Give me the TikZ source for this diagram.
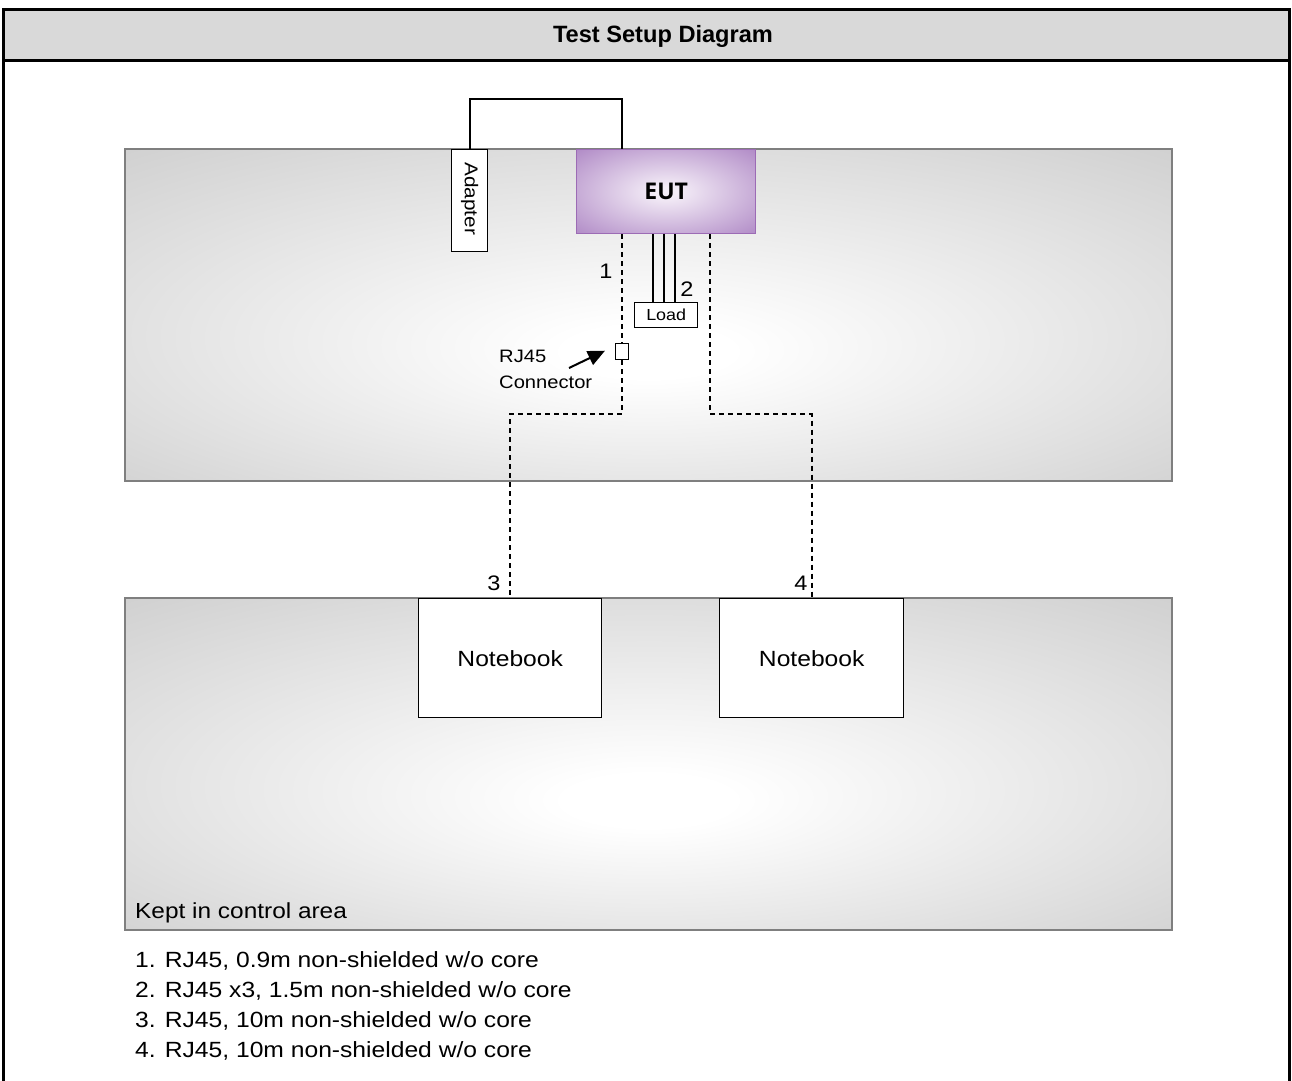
\documentclass[tikz,border=0pt]{standalone}
\usepackage{fontspec}
\setmainfont{Liberation Sans}
\newfontfamily\wf[FakeStretch=1.12]{Liberation Sans}
\newfontfamily\eutfont{Open Sans}
\usetikzlibrary{arrows.meta,calc}
\definecolor{hdrgray}{HTML}{D9D9D9}
\definecolor{panelgray}{HTML}{D0D0D0}
\definecolor{panelline}{HTML}{7F7F7F}
\definecolor{eutout}{HTML}{B08AC6}
\definecolor{eutin}{HTML}{F4EDF7}
\definecolor{eutline}{HTML}{9C6BB5}
\pgfdeclareradialshading{panelshade}{\pgfpoint{0bp}{-6bp}}{color(0bp)=(white); color(4bp)=(white); color(37bp)=(panelgray); color(50bp)=(panelgray)}
\pgfdeclareradialshading{eutshade}{\pgfpoint{0bp}{0bp}}{color(0bp)=(eutin); color(3bp)=(eutin); color(36bp)=(eutout); color(50bp)=(eutout)}
\tikzset{
  panel/.style={draw=panelline, line width=1.6pt, shading=panelshade},
  whitebox/.style={draw=black, fill=white, line width=1.4pt, inner sep=0pt},
  cable/.style={draw=black, line width=1.6pt},
  dcable/.style={draw=black, line width=1.6pt, dash pattern=on 5pt off 4pt},
  lbl/.style={inner sep=0pt, font=\wf\fontsize{21}{24}\selectfont},
  legend/.style={inner sep=0pt, anchor=base west, font=\wf\fontsize{22}{25}\selectfont},
}
\begin{document}
\begin{tikzpicture}[x=1pt,y=-1pt]
\useasboundingbox (0,0) rectangle (1292,1080);
\fill[white] (0,0) rectangle (1292,1080);
% header
\fill[hdrgray] (3,9) rectangle (1289,60);
\draw[line width=3pt] (3,1090) -- (3,9) -- (1289,9) -- (1289,1090);
\draw[line width=3pt] (3,60) -- (1289,60);
\node[inner sep=0pt, font=\bfseries\fontsize{23.6}{26}\selectfont] (title) at (663,36) {Test Setup Diagram};
% panels
\path[panel] (125,149) rectangle (1172,481);
\path[panel] (125,598) rectangle (1172,930);
\node[inner sep=0pt, anchor=base west, font=\wf\fontsize{21.8}{24}\selectfont] (kept) at (135,918) {Kept in control area};
% EUT
\node[draw=eutline, line width=1.4pt, shading=eutshade, minimum width=179pt, minimum height=84pt, anchor=north west, inner sep=0pt, font=\eutfont\bfseries\fontsize{23}{26}\selectfont] (eut) at (576,149) {EUT};
% adapter
\node[whitebox, minimum width=36pt, minimum height=102pt, anchor=north west] (adapter) at (451,149) {};
\node[inner sep=0pt, rotate=-90, font=\wf\fontsize{18.5}{21}\selectfont] (adtext) at ($(adapter.center)+(0,-2)$) {Adapter};
% RJ45 connector box
\node[whitebox, minimum width=13pt, minimum height=16pt, anchor=north west] (conn) at (615,343) {};
% load
\node[whitebox, minimum width=63pt, minimum height=25pt, anchor=north west, font=\wf\fontsize{16}{18}\selectfont] (load) at (634,302) {Load};
% notebooks
\node[whitebox, minimum width=183pt, minimum height=119pt, anchor=north west, font=\wf\fontsize{22}{25}\selectfont] (nb1) at (418,598) {Notebook};
\node[whitebox, minimum width=184pt, minimum height=119pt, anchor=north west, font=\wf\fontsize{22}{25}\selectfont] (nb2) at (719,598) {Notebook};
% helper coordinates
\coordinate (cabletop) at (469,99);
\coordinate (bend) at (0,414);
\coordinate (c4) at (710,0);
% adapter cable
\draw[cable] (adapter.north) |- (cabletop -| conn.north) -- (eut.north -| conn.north);
% cable 1 and 3
\draw[dcable] (eut.south -| conn.north) -- (conn.north);
\draw[dcable] (conn.south) -- (conn.south |- bend) -| (nb1.north);
% cable 4
\draw[dcable] (eut.south -| c4) -- (c4 |- bend) -| (nb2.north);
% load cables
\foreach \dx in {19,30,41}{
  \draw[cable] ($(load.north west)+(\dx,0)$) -- ($(load.north west |- eut.south)+(\dx,0)$);
}
% number labels
\node[lbl] (n1) at (606,271) {1};
\node[lbl] (n2) at (687,289) {2};
\node[lbl] (n3) at (494,583) {3};
\node[lbl] (n4) at (801,583) {4};
% RJ45 label and arrow
\node[inner sep=0pt, anchor=base west, font=\wf\fontsize{18}{20}\selectfont] (rjlbl) at (499,362) {RJ45};
\node[inner sep=0pt, anchor=base west, font=\wf\fontsize{18}{20}\selectfont] (connlbl) at (499,388) {Connector};
\coordinate (arrtail) at (569,368);
\draw[line width=2pt, -{Triangle[length=17pt,width=15pt]}] (arrtail) -- ($(conn.west)+(-10,-1)$);
% legend
\node[legend] (l1) at (135,967) {1. RJ45, 0.9m non-shielded w/o core};
\node[legend] (l2) at (135,997) {2. RJ45 x3, 1.5m non-shielded w/o core};
\node[legend] (l3) at (135,1027) {3. RJ45, 10m non-shielded w/o core};
\node[legend] (l4) at (135,1057) {4. RJ45, 10m non-shielded w/o core};
\end{tikzpicture}
\end{document}
